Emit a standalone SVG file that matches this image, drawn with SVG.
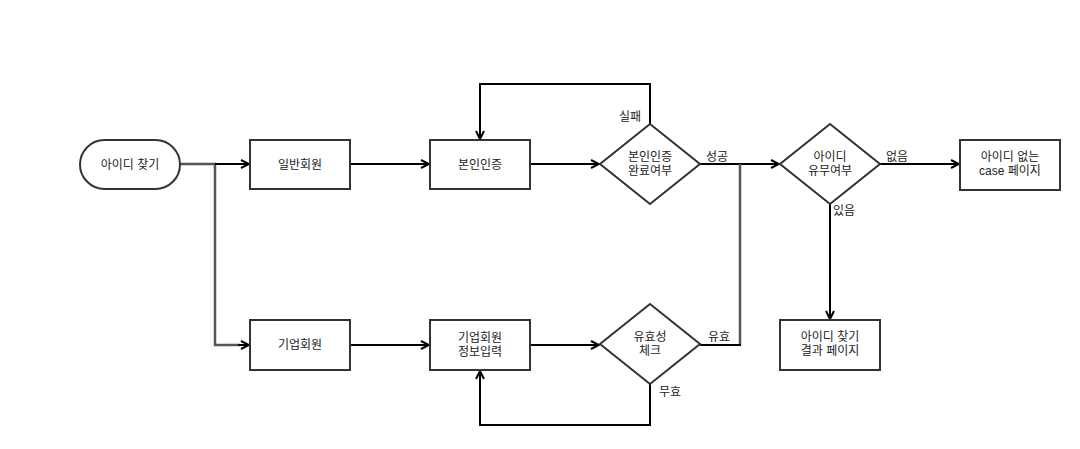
<svg xmlns="http://www.w3.org/2000/svg" width="1080" height="449" viewBox="0 0 1080 449">
<defs>
<style>
.n{fill:#fff;stroke:#333;stroke-width:2}
.t{font-family:"Liberation Sans","Noto Sans CJK KR",sans-serif;font-size:12px;fill:#222;text-anchor:middle}
.l{font-family:"Liberation Sans","Noto Sans CJK KR",sans-serif;font-size:12px;fill:#222}
.c{fill:none;stroke:#000;stroke-width:2}
.g{fill:none;stroke:#555;stroke-width:2.5}
</style>
<marker id="a" viewBox="0 0 10 10" refX="9" refY="5" markerWidth="10" markerHeight="10" markerUnits="userSpaceOnUse" orient="auto">
<path d="M1,1 L9,5 L1,9" fill="none" stroke="#000" stroke-width="2"/>
</marker>
</defs>
<rect width="1080" height="449" fill="#fff"/>
<g id="connectors">
<path class="g" d="M180,164 H215 V345 H240"/>
<path class="c" d="M215,164 H249" marker-end="url(#a)"/>
<path class="c" d="M238,345 H249" marker-end="url(#a)"/>
<path class="c" d="M350,164 H429" marker-end="url(#a)"/>
<path class="c" d="M350,345 H429" marker-end="url(#a)"/>
<path class="c" d="M530,164 H599" marker-end="url(#a)"/>
<path class="c" d="M530,345 H599" marker-end="url(#a)"/>
<path class="c" d="M650,124 V84 H480 V139" marker-end="url(#a)"/>
<path class="c" d="M650,384 V425 H480 V371" marker-end="url(#a)"/>
<path class="c" d="M700,164 H779" marker-end="url(#a)"/>
<path class="g" d="M740,164 V345"/>
<path class="c" d="M700,345 H741"/>
<path class="c" d="M880,164 H959" marker-end="url(#a)"/>
<path class="c" d="M830,204 V319" marker-end="url(#a)"/>
<text class="l" x="619" y="121">실패</text>
<text class="l" x="706" y="161">성공</text>
<text class="l" x="886" y="161">없음</text>
<text class="l" x="833" y="215">있음</text>
<text class="l" x="708" y="341">유효</text>
<text class="l" x="659" y="396">무효</text>
</g>
<g id="start">
<rect class="n" x="80" y="140" width="100" height="49" rx="24.5"/>
<text class="t" x="130" y="169">아이디 찾기</text>
</g>
<g id="general">
<rect class="n" x="250" y="140" width="100" height="49"/>
<text class="t" x="300" y="169">일반회원</text>
</g>
<g id="corp">
<rect class="n" x="250" y="320" width="100" height="50"/>
<text class="t" x="300" y="349">기업회원</text>
</g>
<g id="auth">
<rect class="n" x="430" y="140" width="100" height="49"/>
<text class="t" x="480" y="169">본인인증</text>
</g>
<g id="corpinput">
<rect class="n" x="430" y="320" width="100" height="50"/>
<text class="t" x="480" y="342">기업회원</text>
<text class="t" x="480" y="356">정보입력</text>
</g>
<g id="authcheck">
<polygon class="n" points="650,124 700,164 650,204 600,164"/>
<text class="t" x="650" y="161">본인인증</text>
<text class="t" x="650" y="175">완료여부</text>
</g>
<g id="validcheck">
<polygon class="n" points="650,304 700,344 650,384 600,344"/>
<text class="t" x="650" y="341">유효성</text>
<text class="t" x="650" y="355">체크</text>
</g>
<g id="idcheck">
<polygon class="n" points="830,124 880,164 830,204 780,164"/>
<text class="t" x="830" y="161">아이디</text>
<text class="t" x="830" y="175">유무여부</text>
</g>
<g id="noid">
<rect class="n" x="960" y="140" width="100" height="50"/>
<text class="t" x="1010" y="161">아이디 없는</text>
<text class="t" x="1010" y="175">case 페이지</text>
</g>
<g id="result">
<rect class="n" x="780" y="320" width="100" height="50"/>
<text class="t" x="830" y="341">아이디 찾기</text>
<text class="t" x="830" y="355">결과 페이지</text>
</g>
</svg>
